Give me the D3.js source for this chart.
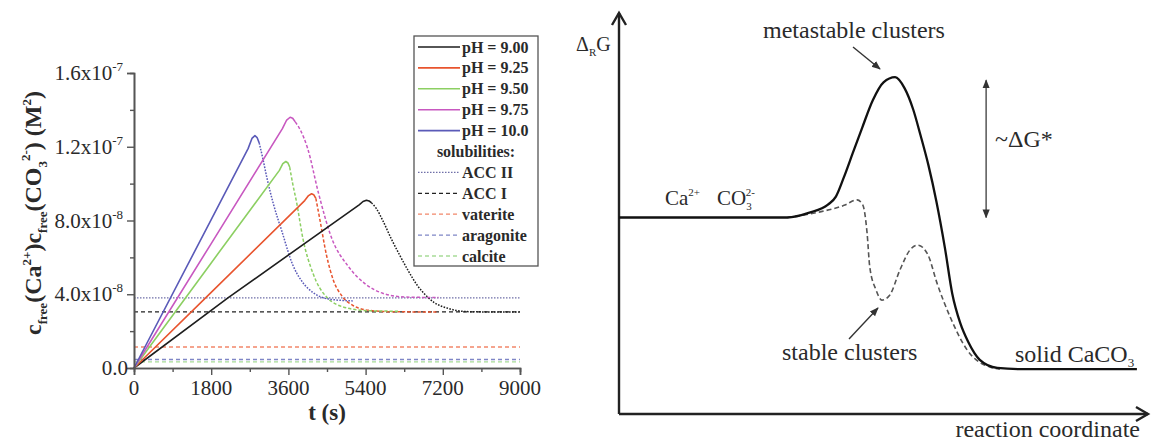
<!DOCTYPE html>
<html><head><meta charset="utf-8">
<script src="https://cdn.jsdelivr.net/npm/d3@7"></script>
<style>
body{margin:0;background:#fff}
svg{display:block}
text{font-family:"Liberation Serif","Times New Roman",serif}
</style>
</head><body>
<svg id="chart" width="1151" height="441"></svg>
<script>
// ================= DATA (left panel) =================
// time in s ; free ion product in units of 1e-8 M^2
const timeTicks = [0, 1800, 3600, 5400, 7200, 9000];
const timeMinorTicks = [900, 2700, 4500, 6300, 8100];
const productTicks = [0, 4, 8, 12, 16];
const productTickMantissa = ["0.0", "4.0x10", "8.0x10", "1.2x10", "1.6x10"];
const productTickExponent = ["", "-8", "-8", "-7", "-7"];
const productMinorTicks = [2, 6, 10, 14];

const seriesLabels = ["pH = 9.00", "pH = 9.25", "pH = 9.50", "pH = 9.75", "pH = 10.0"];

// linear titration rise (solid) and post-nucleation decay (dashed/dotted)
const ph900Rise  = [[0,0],[2190,3.8],[5250,8.85],[5340,9.03],[5420,9.1],[5480,9.06],[5540,8.95]];
const ph900Decay = [[5540,8.95],[5650,8.65],[5800,8.0],[6000,7.0],[6200,6.1],[6400,5.25],[6600,4.5],[6800,3.95],[7000,3.55],[7300,3.25],[7750,3.06],[8400,3.04],[9000,3.04]];
const ph925Rise  = [[0,0],[1800,4.1],[3980,9.08],[4070,9.35],[4140,9.45],[4190,9.4],[4240,9.2]];
const ph925Decay = [[4240,9.2],[4330,8.1],[4490,6.1],[4650,4.75],[4850,3.9],[5100,3.4],[5500,3.12],[6000,3.05],[7100,3.04]];
const ph950Rise  = [[0,0],[1800,5.7],[3390,10.72],[3470,11.08],[3540,11.2],[3590,11.12],[3630,10.9]];
const ph950Decay = [[3630,10.9],[3700,10.0],[3790,9.0],[3940,7.0],[4170,5.15],[4490,3.85],[4960,3.26],[5500,3.1],[6200,3.08]];
const ph975Rise  = [[0,0],[1800,6.75],[3460,12.98],[3560,13.45],[3640,13.6],[3700,13.55],[3760,13.35]];
const ph975Decay = [[3760,13.35],[3880,12.9],[4050,11.9],[4300,9.5],[4600,7.1],[5000,5.5],[5400,4.55],[5800,4.05],[6300,3.85],[7100,3.82]];
const ph1000Rise  = [[0,0],[1800,8.05],[2660,11.9],[2750,12.45],[2820,12.6],[2870,12.5],[2920,12.2]];
const ph1000Decay = [[2920,12.2],[3000,11.4],[3100,10.3],[3250,8.9],[3450,7.4],[3700,5.6],[3900,4.75],[4200,4.05],[4600,3.72],[5100,3.64]];

const solubilityNames  = ["ACC II", "ACC I", "vaterite", "aragonite", "calcite"];
const solubilityValues = [3.8, 3.04, 1.14, 0.46, 0.33];

// ================= DATA (right panel) =================
// reaction coordinate (arbitrary units) ; Delta_R G (arbitrary units)
const pathMetastable = [[0,4.9],[1.2,4.9],[2.4,4.9],[3.18,4.9],[3.6,5.02],[3.95,5.22],[4.1,5.42],[4.25,5.9],[4.42,6.51],[4.6,7.15],[4.8,7.83],[5.0,8.27],[5.22,8.4],[5.4,8.12],[5.56,7.6],[5.7,6.95],[5.85,6.2],[6.0,5.3],[6.16,4.15],[6.3,3.0],[6.45,2.27],[6.6,1.8],[6.82,1.35],[7.15,1.15],[7.58,1.12],[8.4,1.12],[9.1,1.12],[9.79,1.12]];
const pathStable = [[3.18,4.9],[3.8,5.04],[4.27,5.21],[4.5,5.34],[4.61,5.21],[4.69,4.51],[4.74,3.67],[4.86,3.09],[4.97,2.84],[5.12,2.97],[5.31,3.59],[5.5,4.09],[5.65,4.21],[5.84,3.97],[6.01,3.27],[6.26,2.42],[6.58,1.6],[7.01,1.17],[7.2,1.12]];

// ================= STYLES =================
const seriesColors = ["#1e1e1e", "#e8542e", "#8ccf62", "#c858c0", "#5a5ab8"];
const seriesDecayDash = ["1.6,1.4", "3.2,2", "3.2,2", "3.2,2", "1.6,1.4"];
const solubilityColors = ["#6f6fa8", "#222222", "#f2876a", "#7f86c6", "#a8dc98"];
const solubilityDash = ["1.5,1.5", "4,3", "4,3", "4,3", "4,3"];
const FONT = "'Liberation Serif','Times New Roman',serif";

const svg = d3.select("#chart");
const axisColor = "#555";

// ---------- left panel ----------
const x = d3.scaleLinear().domain([0, 9000]).range([134, 520]);
const y = d3.scaleLinear().domain([0, 16]).range([368, 73]);
const left = svg.append("g");

left.selectAll("line.sol").data(solubilityValues).join("line")
  .attr("x1", x(0)).attr("x2", x(9000))
  .attr("y1", d => y(d)).attr("y2", d => y(d))
  .attr("stroke", (d,i) => solubilityColors[i])
  .attr("stroke-width", 1.3)
  .attr("stroke-dasharray", (d,i) => solubilityDash[i]);

const riseLine = d3.line().x(d => x(d[0])).y(d => y(d[1])).curve(d3.curveLinear);
const decayLine = d3.line().x(d => x(d[0])).y(d => y(d[1])).curve(d3.curveMonotoneX);
const rises = [ph900Rise, ph925Rise, ph950Rise, ph975Rise, ph1000Rise];
const decays = [ph900Decay, ph925Decay, ph950Decay, ph975Decay, ph1000Decay];

decays.forEach((d, i) => {
  left.append("path").attr("d", decayLine(d)).attr("fill", "none")
    .attr("stroke", seriesColors[i]).attr("stroke-width", 1.5)
    .attr("stroke-dasharray", seriesDecayDash[i]);
});
rises.forEach((d, i) => {
  left.append("path").attr("d", riseLine(d)).attr("fill", "none")
    .attr("stroke", seriesColors[i]).attr("stroke-width", 1.6).attr("stroke-linejoin", "round");
});

const yAxis = d3.axisLeft(y).tickValues(productTicks).tickSize(7).tickFormat("");
const yMinor = d3.axisLeft(y).tickValues(productMinorTicks).tickSize(4).tickFormat("");
const xAxis = d3.axisBottom(x).tickValues(timeTicks).tickSize(7).tickFormat("");
const xMinor = d3.axisBottom(x).tickValues(timeMinorTicks).tickSize(4).tickFormat("");
[[yAxis, `translate(${x(0)},0)`], [yMinor, `translate(${x(0)},0)`],
 [xAxis, `translate(0,${y(0)})`], [xMinor, `translate(0,${y(0)})`]].forEach(([ax, tr]) => {
  const g = left.append("g").attr("transform", tr).call(ax);
  g.selectAll("path.domain").attr("stroke", axisColor).attr("stroke-width", 1.6);
  g.selectAll("line").attr("stroke", axisColor).attr("stroke-width", 1.4);
});

productTicks.forEach((v, i) => {
  const t = left.append("text").attr("x", productTickExponent[i] ? 123 : 128).attr("y", y(v) + 7).attr("font-family", FONT)
    .attr("text-anchor", "end").attr("font-size", 21).attr("fill", "#2a2a2a");
  t.append("tspan").text(productTickMantissa[i]);
  if (productTickExponent[i]) t.append("tspan").attr("dy", -9).attr("font-size", 13).text(productTickExponent[i]);
});
timeTicks.forEach(v => {
  left.append("text").attr("x", x(v)).attr("y", 395).attr("text-anchor", "middle").attr("font-family", FONT)
    .attr("font-size", 21).attr("fill", "#2a2a2a").text(v);
});
left.append("text").attr("x", 327).attr("y", 420).attr("text-anchor", "middle").attr("font-family", FONT)
  .attr("font-size", 23).attr("font-weight", "bold").attr("fill", "#2a2a2a").text("t (s)");

const yl = left.append("text").attr("transform", "translate(41,213) rotate(-90)").attr("font-family", FONT)
  .attr("text-anchor", "middle").attr("font-size", 24).attr("font-weight", "bold").attr("fill", "#2a2a2a");
const parts = [
  ["c", 0, 24], ["free", 6, 13], ["(Ca", -6, 24], ["2+", -10, 13], [")c", 10, 24], ["free", 6, 13],
  ["(CO", -6, 24], ["3", 6, 13], ["2-", -17, 13], [") (M", 11, 24], ["2", -10, 13], [")", 10, 24]
];
parts.forEach(([s, dy, fs]) => yl.append("tspan").attr("dy", dy).attr("font-size", fs).text(s));

const legend = left.append("g");
legend.append("rect").attr("x", 414).attr("y", 36).attr("width", 124).attr("height", 230)
  .attr("fill", "#fff").attr("stroke", "#555").attr("stroke-width", 1.3);
const rowY = i => 47 + i * 20.9;
seriesLabels.forEach((lab, i) => {
  legend.append("line").attr("x1", 418).attr("x2", 460).attr("y1", rowY(i)).attr("y2", rowY(i))
    .attr("stroke", seriesColors[i]).attr("stroke-width", 1.6);
  legend.append("text").attr("x", 462).attr("y", rowY(i) + 5.5).attr("font-size", 16).attr("font-family", FONT)
    .attr("font-weight", "bold").attr("fill", "#2a2a2a").text(lab);
});
legend.append("text").attr("x", 476).attr("y", rowY(5) + 5.5).attr("text-anchor", "middle").attr("font-family", FONT)
  .attr("font-size", 16).attr("font-weight", "bold").attr("fill", "#2a2a2a").text("solubilities:");
solubilityNames.forEach((lab, j) => {
  const i = j + 6;
  legend.append("line").attr("x1", 418).attr("x2", 460).attr("y1", rowY(i)).attr("y2", rowY(i))
    .attr("stroke", solubilityColors[j]).attr("stroke-width", 1.3).attr("stroke-dasharray", solubilityDash[j]);
  legend.append("text").attr("x", 462).attr("y", rowY(i) + 5.5).attr("font-size", 16).attr("font-family", FONT)
    .attr("font-weight", "bold").attr("fill", "#2a2a2a").text(lab);
});

// ---------- right panel ----------
const xE = d3.scaleLinear().domain([0, 10]).range([619, 1148]);
const yE = d3.scaleLinear().domain([0, 10]).range([414, 13]);
const right = svg.append("g");
const defs = svg.append("defs");
defs.append("marker").attr("id", "tri").attr("viewBox", "0 0 10 10").attr("refX", 9).attr("refY", 5)
  .attr("markerWidth", 9).attr("markerHeight", 9).attr("markerUnits", "userSpaceOnUse").attr("orient", "auto-start-reverse")
  .append("path").attr("d", "M0,1 L10,5 L0,9 z").attr("fill", "#333");

const axStroke = p => right.append("path").attr("d", p).attr("stroke", "#222").attr("stroke-width", 2.4)
  .attr("fill", "none").attr("stroke-linejoin", "miter");
axStroke(`M${xE(0)},${yE(0)} L${xE(0)},${yE(10)}`);
axStroke(`M${xE(0)},${yE(0)} L${xE(10)},${yE(0)}`);
axStroke(`M${xE(0)-7},${yE(10)+12} L${xE(0)},${yE(10)} L${xE(0)+7},${yE(10)+12}`);
axStroke(`M${xE(10)-12},${yE(0)-7} L${xE(10)},${yE(0)} L${xE(10)-12},${yE(0)+7}`);

const lineE = d3.line().x(d => xE(d[0])).y(d => yE(d[1])).curve(d3.curveMonotoneX);
right.append("path").attr("d", lineE(pathStable)).attr("fill", "none").attr("stroke", "#555")
  .attr("stroke-width", 1.6).attr("stroke-dasharray", "5,3");
right.append("path").attr("d", lineE(pathMetastable)).attr("fill", "none").attr("stroke", "#111")
  .attr("stroke-width", 2.3);

const gTop = d3.max(pathMetastable, d => d[1]);
const gStart = pathMetastable[0][1];
right.append("line").attr("x1", xE(6.94)).attr("x2", xE(6.94)).attr("y1", yE(gTop) + 3).attr("y2", yE(gStart))
  .attr("stroke", "#555").attr("stroke-width", 1.5)
  .attr("marker-start", "url(#tri)").attr("marker-end", "url(#tri)");

right.append("line").attr("x1", 853).attr("y1", 47).attr("x2", 880).attr("y2", 69)
  .attr("stroke", "#333").attr("stroke-width", 1.4).attr("marker-end", "url(#tri)");
right.append("line").attr("x1", 849).attr("y1", 339).attr("x2", 878).attr("y2", 308)
  .attr("stroke", "#333").attr("stroke-width", 1.4).attr("marker-end", "url(#tri)");

const txt = (xp, yp, fs, anchor) => right.append("text").attr("x", xp).attr("y", yp).attr("font-family", FONT)
  .attr("font-size", fs).attr("text-anchor", anchor || "start").attr("fill", "#2a2a2a");

txt(763, 38, 24).text("metastable clusters");
txt(782, 360, 24).text("stable clusters");
txt(995, 147, 24).text("~ΔG*");
txt(1140, 437, 24, "end").text("reaction coordinate");
const sc = txt(1015, 362, 24);
sc.append("tspan").text("solid CaCO");
sc.append("tspan").attr("dy", 5).attr("font-size", 13).text("3");

const ca = txt(665, 205, 21);
ca.append("tspan").text("Ca");
ca.append("tspan").attr("dy", -9).attr("font-size", 11).text("2+");
const co = txt(717, 205, 21);
co.append("tspan").text("CO");
co.append("tspan").attr("dy", 5).attr("font-size", 11).text("3");
co.append("tspan").attr("dy", -14).attr("dx", -6).attr("font-size", 11).text("2-");

const dg = txt(576, 51, 20);
dg.append("tspan").text("Δ");
dg.append("tspan").attr("dy", 5).attr("font-size", 11).text("R");
dg.append("tspan").attr("dy", -5).text("G");
</script>
</body></html>
